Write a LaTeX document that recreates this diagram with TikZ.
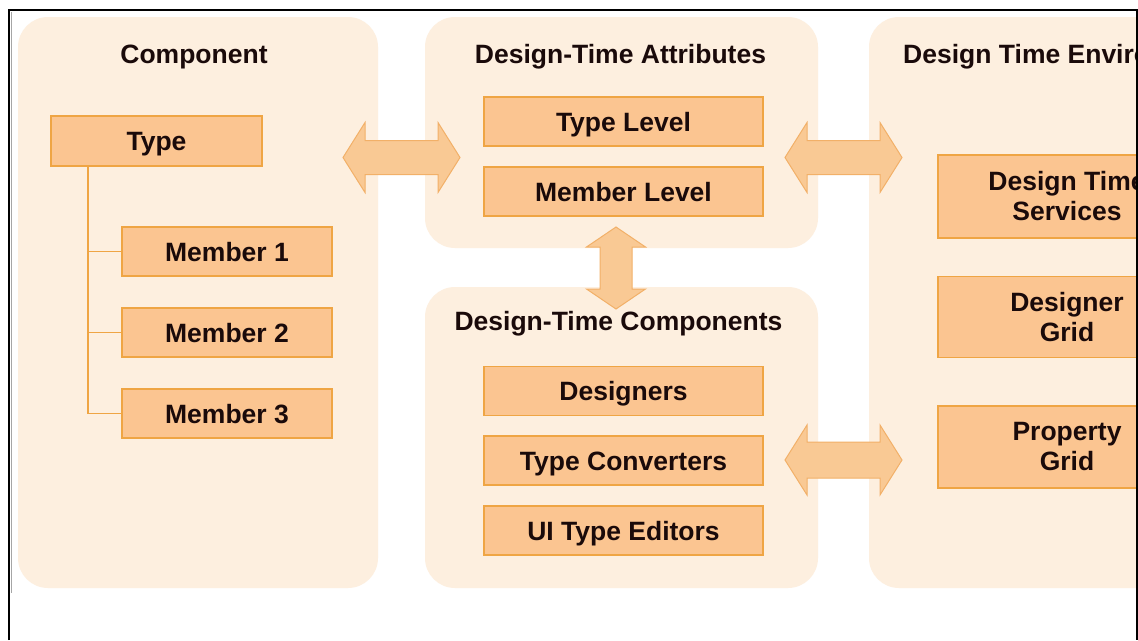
\documentclass[tikz,border=0pt]{standalone}
\usepackage{fontspec}
\setmainfont{Liberation Sans}
\definecolor{panelfill}{HTML}{FDEFDF}
\definecolor{boxfill}{HTML}{FBC591}
\definecolor{boxline}{HTML}{EFA544}
\definecolor{arrowfill}{HTML}{F9C994}
\definecolor{arrowline}{HTML}{F2B068}
\definecolor{txt}{HTML}{1A0A0A}
\begin{document}
\begin{tikzpicture}[x=1pt,y=-1pt,
  panel/.style={fill=panelfill, draw=none, rounded corners=30pt},
  box/.style={draw=boxline, fill=boxfill, line width=1.3pt, inner sep=0pt, text=txt,
    font=\fontsize{26.5}{30}\selectfont\bfseries},
  onebox/.style={box, text height=19pt, text depth=0pt},
  twobox/.style={box, align=center},
  title/.style={text=txt, inner sep=0pt, anchor=base, font=\fontsize{26.5}{30}\selectfont\bfseries},
  tree/.style={draw=boxline, line width=1.4pt},
  pics/dblarrow/.style n args={4}{code={
    \draw[fill=arrowfill, draw=arrowline, line width=1pt, line join=miter]
      (-#1,0) -- (-#1+#4,-#2) -- (-#1+#4,-#3) -- (#1-#4,-#3) -- (#1-#4,-#2) -- (#1,0)
      -- (#1-#4,#2) -- (#1-#4,#3) -- (-#1+#4,#3) -- (-#1+#4,#2) -- cycle;}}
]
\useasboundingbox (0,0) rectangle (1138,640);
\fill[white] (0,0) rectangle (1138,640);
\begin{scope}
\clip (9,10) rectangle (1137,640);
% panels
\fill[panel] (18,17) rectangle (378,588);
\fill[panel] (425,17) rectangle (818,248);
\fill[panel] (425,287) rectangle (818,588);
\fill[panel] (869,17) rectangle (1260,588);
% titles
\node[title] (tcomp) at (194,63) {Component};
\node[title] (tattr) at (620.5,63) {Design-Time Attributes};
\node[title] (tdcomp) at (618.5,330) {Design-Time Components};
\node[title, anchor=base west] (tenv) at (903,63) {Design Time Environment};
% component boxes
\node[onebox, minimum width=211pt, minimum height=50pt] (type) at (156.5,141) {Type};
\node[onebox, minimum width=210pt, minimum height=49pt] (m1) at (227,251.5) {Member 1};
\node[onebox, minimum width=210pt, minimum height=49pt] (m2) at (227,332.5) {Member 2};
\node[onebox, minimum width=210pt, minimum height=49pt] (m3) at (227,413.5) {Member 3};
\coordinate (trunk) at (88,0);
\draw[tree] (type.south -| trunk) -- (m3.west -| trunk) -- (m3.west);
\draw[tree] (m1.west -| trunk) -- (m1.west);
\draw[tree] (m2.west -| trunk) -- (m2.west);
% attribute boxes
\node[onebox, minimum width=279pt, minimum height=49pt] (tlev) at (623.5,121.5) {Type Level};
\node[onebox, minimum width=279pt, minimum height=49pt] (mlev) at (623.5,191.5) {Member Level};
% design-time components
\node[onebox, minimum width=279pt, minimum height=49pt] (des) at (623.5,391) {Designers};
\node[onebox, minimum width=279pt, minimum height=49pt] (tconv) at (623.5,460.5) {Type Converters};
\node[onebox, minimum width=279pt, minimum height=49pt] (uied) at (623.5,530.5) {UI Type Editors};
% environment
\node[twobox, minimum width=258pt, minimum height=83pt] (dts) at (1067,196.5) {Design Time\\Services};
\node[twobox, minimum width=258pt, minimum height=81pt] (dgrid) at (1067,317) {Designer\\Grid};
\node[twobox, minimum width=258pt, minimum height=82pt] (pgrid) at (1067,447) {Property\\Grid};
% arrows
\pic at (401.5,157.5) {dblarrow={58.5}{35}{17}{22}};
\pic at (843.5,157.5) {dblarrow={58.5}{35}{17}{22}};
\pic at (843.5,460) {dblarrow={58.5}{35}{18}{22}};
\pic[rotate=90] at (616,268) {dblarrow={41}{29.5}{16}{20}};
\end{scope}
% frame
\draw[black, line width=1.2pt] (9,640) -- (9,10) -- (1137,10) -- (1137,640);
\draw[black!35, line width=1pt] (11.5,12) -- (11.5,593);
\end{tikzpicture}
\end{document}
